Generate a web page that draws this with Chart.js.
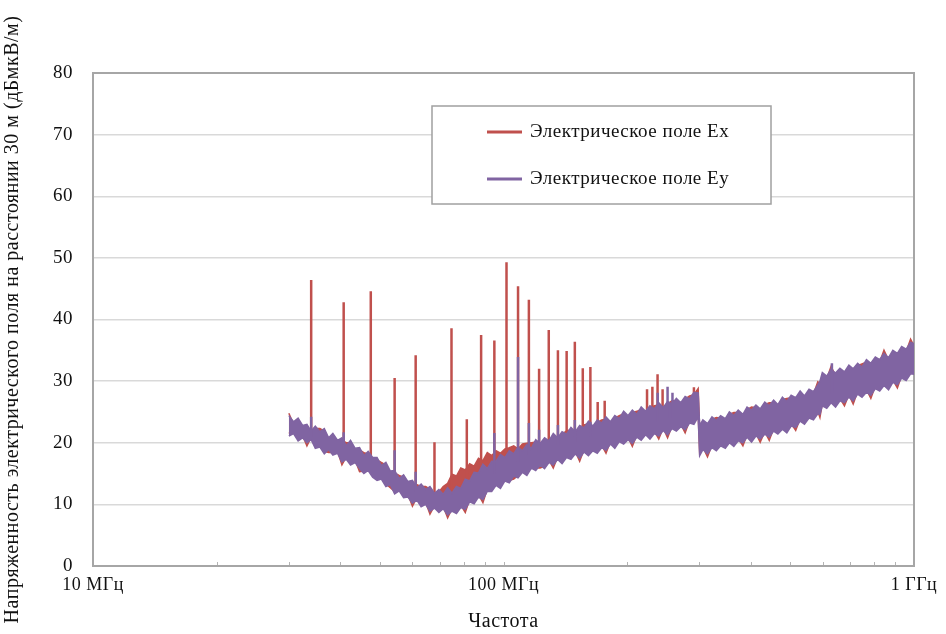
<!DOCTYPE html>
<html>
<head>
<meta charset="utf-8">
<script src="https://cdn.jsdelivr.net/npm/chart.js@4.4.0/dist/chart.umd.min.js"></script>
<style>
  body { margin: 0; background: #fff; }
  #wrap { width: 946px; height: 634px; }
</style>
</head>
<body>
<div id="wrap"><canvas id="myChart" width="946" height="634"></canvas></div>
<script>
// frequency points of the measured traces (MHz)
const freqs = [
  30, 30.8, 31.6, 32.4, 33.2, 34, 34.8, 35.7, 36.6, 37.5,
  38.4, 39.4, 40.4, 41.4, 42.4, 43.5, 44.6, 45.7, 46.8, 48,
  49.2, 50.4, 51.7, 53, 54.3, 55.7, 57.1, 58.5, 60, 61.5,
  63, 64.6, 66.2, 67.9, 69.6, 71.3, 73.1, 74.9, 76.8, 78.7,
  80.7, 82.7, 84.8, 86.9, 89.1, 91.3, 93.6, 95.9, 98.3, 100.8,
  103.3, 105.9, 108.5, 111.2, 114, 116.9, 119.8, 122.8, 125.9, 129,
  132.2, 135.5, 138.9, 142.4, 146, 149.6, 153.3, 157.1, 161, 165,
  169.2, 173.4, 177.7, 182.2, 186.7, 191.4, 196.2, 201, 206, 211.2,
  216.5, 221.9, 227.4, 233.1, 238.9, 244.9, 251, 257.3, 263.7, 270.3,
  277, 284, 291, 298, 300.5, 306, 314, 322, 330, 338,
  347, 355, 364, 373, 383, 392, 402, 412, 422, 433,
  444, 455, 466, 478, 490, 502, 515, 528, 541, 555,
  569, 583, 590, 598, 613, 628, 644, 660, 677, 694,
  711, 729, 747, 766, 785, 805, 825, 845, 867, 888,
  911, 933, 957, 981, 1000];

// Ey: upper / lower edge of the noise band (dBmkV/m)
const eyHigh = [
  24.4, 23.4, 24.0, 22.8, 23.0, 21.9, 22.7, 21.8, 22.3, 20.8,
  21.5, 20.4, 20.8, 19.5, 20.4, 19.1, 19.2, 17.9, 18.6, 17.6,
  17.6, 16.3, 16.8, 15.4, 15.5, 14.2, 14.8, 13.7, 13.9, 12.7,
  13.3, 12.4, 12.9, 11.8, 12.4, 11.6, 12.7, 11.8, 12.9, 12.6,
  14.1, 13.8, 15.2, 15.1, 16.5, 15.8, 17.0, 17.0, 18.1, 17.6,
  18.7, 18.2, 19.3, 18.7, 19.7, 19.1, 20.5, 19.9, 20.8, 20.3,
  21.5, 20.8, 21.8, 21.4, 22.5, 21.8, 22.8, 22.4, 23.5, 22.7,
  23.7, 23.2, 24.2, 23.4, 24.4, 23.9, 25.1, 24.4, 25.3, 24.6,
  25.8, 25.1, 26.0, 25.5, 26.5, 25.7, 26.7, 26.3, 27.2, 26.5,
  27.5, 27.1, 28.2, 28.1, 22.8, 23.7, 23.1, 24.2, 23.6, 24.4,
  23.9, 25.0, 24.4, 25.3, 24.6, 25.8, 25.3, 26.1, 25.5, 26.6,
  26.0, 26.9, 26.2, 27.4, 26.7, 27.7, 27.3, 28.4, 27.6, 28.7,
  28.3, 29.4, 30.0, 31.4, 30.8, 31.9, 31.3, 32.1, 31.5, 32.6,
  32.0, 32.9, 32.3, 33.5, 32.9, 33.9, 33.5, 34.5, 33.8, 35.0,
  34.5, 35.6, 35.2, 36.3, 36.1];
const eyLow = [
  21.1, 21.5, 20.3, 20.8, 20.0, 20.5, 19.1, 19.3, 18.2, 18.9,
  18.0, 18.3, 16.9, 17.3, 16.4, 16.8, 15.8, 15.0, 15.5, 14.4,
  13.9, 14.1, 12.9, 13.2, 11.7, 12.2, 11.1, 11.2, 10.2, 10.7,
  9.6, 10.0, 8.9, 9.4, 8.7, 9.3, 8.3, 8.9, 8.5, 9.5,
  9.2, 10.4, 10.1, 11.2, 10.8, 12.1, 12.1, 13.1, 12.6, 13.8,
  13.5, 14.6, 14.3, 15.2, 14.7, 15.9, 15.5, 16.4, 15.8, 16.8,
  16.4, 17.3, 16.6, 17.6, 17.3, 18.2, 17.5, 18.5, 17.9, 18.7,
  18.3, 19.2, 18.8, 19.8, 19.1, 20.2, 19.8, 20.5, 19.9, 20.9,
  20.4, 21.3, 20.6, 21.5, 21.1, 22.0, 21.3, 22.3, 21.9, 22.6,
  22.1, 23.2, 23.0, 24.2, 17.9, 18.9, 18.2, 19.2, 18.7, 19.5,
  19.1, 20.0, 19.4, 20.3, 20.0, 20.9, 20.1, 21.1, 20.6, 21.4,
  20.9, 21.9, 21.4, 22.2, 21.6, 22.7, 22.5, 23.5, 23.0, 24.0,
  23.7, 24.7, 24.6, 26.0, 25.6, 26.5, 25.8, 26.8, 26.5, 27.4,
  26.8, 27.9, 27.4, 28.2, 27.7, 28.8, 28.4, 29.3, 28.6, 29.8,
  29.4, 30.5, 30.1, 31.2, 31.1];

// Ex: upper / lower edge of the noise band
const exHigh = [
  24.8, 23.0, 23.6, 22.4, 22.6, 21.5, 22.3, 22.3, 21.9, 20.4,
  21.1, 20.0, 20.4, 20.0, 20.0, 18.7, 18.8, 18.4, 18.2, 17.2,
  17.2, 16.8, 16.4, 15.0, 15.1, 14.7, 14.4, 13.3, 13.5, 13.2,
  12.9, 12.9, 12.5, 11.4, 12.0, 12.9, 13.4, 14.9, 14.6, 15.9,
  15.6, 16.6, 16.2, 17.5, 17.1, 18.4, 17.9, 18.7, 18.3, 19.0,
  19.2, 19.5, 19.0, 19.8, 19.9, 20.0, 20.1, 19.5, 20.4, 19.9,
  21.1, 20.4, 21.4, 21.9, 22.1, 21.4, 22.4, 22.9, 23.1, 22.3,
  23.3, 23.7, 23.8, 23.0, 24.0, 24.4, 24.7, 24.0, 24.9, 25.1,
  25.4, 24.7, 25.6, 26.0, 26.1, 25.3, 26.3, 26.8, 26.8, 26.1,
  27.1, 27.6, 27.8, 28.8, 22.4, 23.3, 22.7, 23.8, 24.1, 24.0,
  23.5, 24.6, 24.9, 24.9, 24.2, 25.4, 25.8, 25.7, 25.1, 26.2,
  26.5, 26.5, 25.8, 27.0, 27.2, 27.3, 26.9, 28.0, 27.2, 28.3,
  27.9, 29.9, 29.6, 31.0, 30.4, 32.4, 30.9, 31.7, 31.1, 32.2,
  31.6, 32.5, 32.8, 33.1, 32.5, 33.5, 33.1, 35.0, 33.4, 34.6,
  34.1, 35.2, 34.8, 36.8, 35.7];
const exLow = [
  21.5, 21.9, 20.7, 21.2, 19.5, 20.9, 19.5, 19.7, 18.6, 18.4,
  18.4, 18.7, 16.4, 17.7, 16.8, 17.2, 15.3, 15.4, 15.9, 14.8,
  14.3, 14.5, 13.3, 12.7, 12.1, 12.6, 11.5, 11.6, 9.7, 11.1,
  10.0, 10.4, 8.4, 9.8, 9.1, 9.7, 7.8, 9.3, 8.9, 9.9,
  8.7, 10.8, 10.5, 11.6, 10.3, 12.5, 12.5, 13.5, 13.0, 14.2,
  13.9, 14.1, 14.7, 15.6, 15.1, 16.3, 15.9, 15.9, 16.2, 17.2,
  15.9, 17.7, 17.0, 18.0, 17.7, 18.6, 17.0, 18.9, 18.3, 19.1,
  18.7, 19.6, 18.3, 20.2, 19.5, 20.6, 20.2, 20.9, 19.4, 21.3,
  20.8, 21.7, 21.0, 21.9, 20.6, 22.4, 20.8, 22.7, 22.3, 23.0,
  21.6, 23.6, 23.4, 24.6, 18.3, 19.3, 17.7, 19.6, 19.1, 19.9,
  19.5, 20.4, 19.8, 20.7, 19.5, 21.3, 20.5, 21.5, 20.1, 21.8,
  20.4, 22.3, 21.8, 22.6, 22.0, 23.1, 22.0, 23.9, 23.4, 24.4,
  24.1, 25.1, 24.1, 26.4, 26.0, 26.9, 26.2, 27.2, 26.0, 27.8,
  26.3, 28.3, 27.8, 28.6, 27.2, 29.2, 28.8, 29.7, 29.0, 30.2,
  28.9, 30.9, 30.5, 31.6, 31.5];

// narrow peaks: frequency, level where it leaves the band, peak level
const exPeakFreqs = [34.0, 40.8, 47.5, 54.3, 61.1, 67.9, 74.7, 81.4, 88.2, 95.0, 101.7, 108.5, 115.3, 122.1,
  128.9, 135.7, 142.5, 149.2, 156.0, 162.8, 169.6, 176.4, 223.7, 230.5, 237.3, 244.1, 291];
const exPeakBase = [21, 19, 17, 14, 12, 11, 10.5, 12, 13, 15, 16, 17, 18, 18.5,
  19, 19.5, 20, 20, 20.5, 21, 21, 21.5, 23, 23, 23.5, 23.5, 25];
const exPeakTop = [46.4, 42.8, 44.6, 30.5, 34.2, 20.1, 38.6, 23.8, 37.5, 36.6, 49.3, 45.4, 43.2, 32.0,
  38.3, 35.0, 34.9, 36.4, 32.1, 32.3, 26.6, 26.8, 28.7, 29.1, 31.1, 28.7, 29.0];

const eyPeakFreqs = [34.0, 40.8, 54.3, 61.1, 95.0, 108.5, 115.3, 122.1, 135.7, 149.2, 162.8, 237.5, 251, 258, 631];
const eyPeakBase = [21, 19, 14, 12, 15, 17, 18, 18.5, 19.5, 20, 21, 23.5, 24, 24, 28];
const eyPeakTop = [24.2, 21.7, 18.8, 15.3, 21.6, 33.9, 23.2, 22.1, 22.9, 23.7, 23.4, 28.1, 29.1, 28.1, 32.9];

// axis ticks
const xTickValues = [10, 20, 30, 40, 50, 60, 70, 80, 90, 100, 200, 300, 400, 500, 600, 700, 800, 900, 1000];
const xMajorValues = [10, 100, 1000];
const xMajorLabels = ['10 МГц', '100 МГц', '1 ГГц'];
const seriesLabels = ['Электрическое поле Ex', 'Электрическое поле Ey'];

const red = '#c0504d';
const purple = '#8064a2';
const fontFamily = "'Liberation Serif', 'Times New Roman', serif";

const toPoints = (xs, ys) => xs.map((x, i) => ({x: x, y: ys[i]}));
const toPeaks = (xs, lo, hi) => {
  let pts = [];
  xs.forEach((x, i) => {
    pts.push({x: x, y: lo[i]}, {x: x, y: hi[i]}, {x: x, y: null});
  });
  return pts;
};

// plot frame, small inner tick marks and the boxed legend
const framePlugin = {
  id: 'frame',
  beforeDraw(chart) {
    chart.ctx.letterSpacing = '0.5px';
  },
  beforeDatasetsDraw(chart) {
    const {ctx, chartArea: a, scales: {x}} = chart;
    ctx.save();
    ctx.strokeStyle = '#b4b4b4';
    ctx.lineWidth = 1;
    xTickValues.forEach(v => {
      const px = Math.round(x.getPixelForValue(v)) + 0.5;
      ctx.beginPath();
      ctx.moveTo(px, a.bottom - 4);
      ctx.lineTo(px, a.bottom);
      ctx.stroke();
    });
    ctx.strokeStyle = '#a6a6a6';
    ctx.lineWidth = 2;
    ctx.strokeRect(a.left, a.top, a.right - a.left, a.bottom - a.top);
    ctx.restore();
  },
  afterDraw(chart) {
    const ctx = chart.ctx;
    ctx.save();
    ctx.fillStyle = '#fff';
    ctx.fillRect(432, 106, 339, 98);
    ctx.strokeStyle = '#a0a0a0';
    ctx.lineWidth = 1.5;
    ctx.strokeRect(432, 106, 339, 98);
    const rows = [[seriesLabels[0], red, 132], [seriesLabels[1], purple, 179]];
    ctx.font = '19px ' + fontFamily;
    ctx.textBaseline = 'middle';
    rows.forEach(r => {
      ctx.strokeStyle = r[1];
      ctx.lineWidth = 3;
      ctx.beginPath();
      ctx.moveTo(487, r[2]);
      ctx.lineTo(522, r[2]);
      ctx.stroke();
      ctx.fillStyle = '#111';
      ctx.fillText(r[0], 530, r[2]);
    });
    ctx.restore();
  }
};

const bandLine = {pointRadius: 0, borderWidth: 1.5, tension: 0};

new Chart(document.getElementById('myChart'), {
  type: 'line',
  data: {
    datasets: [
      Object.assign({label: seriesLabels[0], data: toPoints(freqs, exHigh), borderColor: red, backgroundColor: red, fill: '+1', order: 4}, bandLine),
      Object.assign({label: 'exLow', data: toPoints(freqs, exLow), borderColor: red, fill: false, order: 4}, bandLine),
      {label: 'exPeaks', data: toPeaks(exPeakFreqs, exPeakBase, exPeakTop), borderColor: red, borderWidth: 2.5,
        pointRadius: 0, spanGaps: false, fill: false, order: 3},
      Object.assign({label: seriesLabels[1], data: toPoints(freqs, eyHigh), borderColor: purple, backgroundColor: purple, fill: '+1', order: 2}, bandLine),
      Object.assign({label: 'eyLow', data: toPoints(freqs, eyLow), borderColor: purple, fill: false, order: 2}, bandLine),
      {label: 'eyPeaks', data: toPeaks(eyPeakFreqs, eyPeakBase, eyPeakTop), borderColor: purple, borderWidth: 2.5,
        pointRadius: 0, spanGaps: false, fill: false, order: 1}
    ]
  },
  options: {
    responsive: false,
    animation: false,
    layout: {padding: {top: 73, right: 32, left: 0, bottom: 0}},
    plugins: {
      legend: {display: false},
      tooltip: {enabled: false}
    },
    scales: {
      x: {
        type: 'logarithmic',
        min: 10,
        max: 1000,
        afterBuildTicks: axis => { axis.ticks = xTickValues.map(v => ({value: v})); },
        afterFit: scale => { scale.height = 68; },
        grid: {display: false, drawTicks: false},
        border: {display: false},
        ticks: {
          autoSkip: false,
          maxRotation: 0,
          padding: 8,
          color: '#111',
          font: {family: fontFamily, size: 18},
          callback: value => {
            const i = xMajorValues.indexOf(value);
            return i >= 0 ? xMajorLabels[i] : '';
          }
        },
        title: {
          display: true,
          text: 'Частота',
          color: '#111',
          font: {family: fontFamily, size: 20},
          padding: {top: 4, bottom: 0}
        }
      },
      y: {
        min: 0,
        max: 80,
        afterFit: scale => { scale.width = 93; },
        grid: {color: '#d9d9d9', lineWidth: 1.5, drawTicks: false},
        border: {display: false},
        ticks: {
          stepSize: 10,
          padding: 20,
          color: '#111',
          font: {family: fontFamily, size: 19}
        },
        title: {
          display: true,
          text: 'Напряженность электрического поля на расстоянии 30 м (дБмкВ/м)',
          color: '#111',
          font: {family: fontFamily, size: 20},
          padding: {top: 1, bottom: 0}
        }
      }
    }
  },
  plugins: [framePlugin]
});
</script>
</body>
</html>
